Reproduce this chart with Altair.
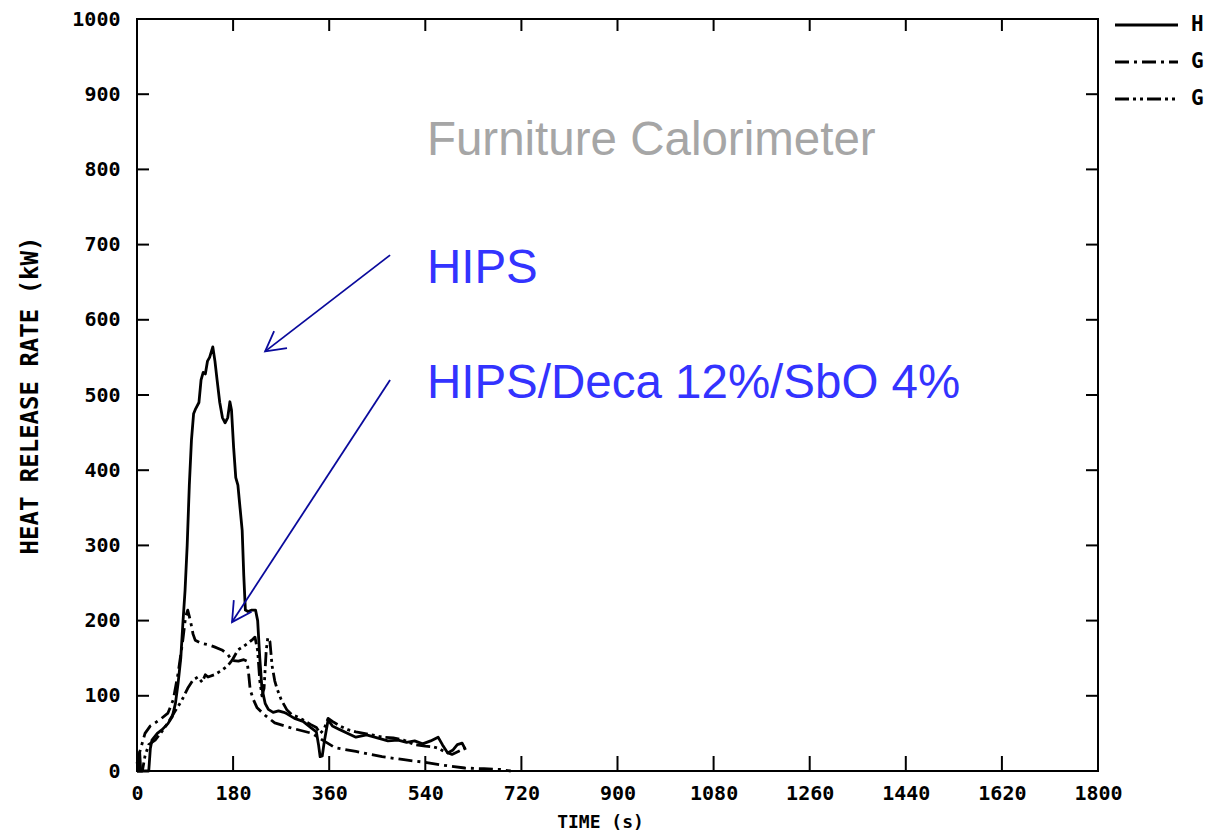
import altair as alt
import pandas as pd

# Axis ticks
TIME_TICKS = list(range(0, 1801, 180))
HRR_TICKS = list(range(0, 1001, 100))

# H : HIPS (solid)
hips_t = [0, 4, 5, 7, 22, 25, 28, 38, 47, 58, 66, 72, 77, 82, 86, 90, 94, 98, 102, 106,
          110, 116, 120, 124, 128, 132, 136, 142, 146, 150, 155, 160, 165, 170, 174, 177,
          181, 185, 189, 193, 197, 200, 203, 208, 215, 222, 226, 230, 234, 240, 246, 255,
          265, 275, 281, 295, 311, 325, 336, 340, 343, 347, 351, 358, 366, 380, 395, 410,
          430, 450, 470, 489, 505, 520, 535, 550, 564, 572, 582, 592, 600, 609, 614]
hips_q = [0, 0, 25, 0, 0, 30, 41, 50, 55, 63, 72, 90, 117, 150, 197, 240, 300, 380, 440, 475,
          482, 490, 520, 530, 528, 545, 550, 564, 545, 520, 490, 470, 463, 470, 491, 480,
          430, 390, 380, 350, 320, 260, 214, 212, 214, 214, 200, 150, 110, 90, 82, 78,
          80, 78, 76, 70, 66, 58, 52, 35, 19, 20, 40, 68, 60, 55, 50, 45,
          48, 44, 40, 41, 38, 40, 36, 40, 45, 35, 24, 28, 35, 37, 30]

# G : dash-dot
g1_t = [0, 5, 15, 25, 34, 46, 58, 68, 77, 86, 91, 95, 100, 105, 109, 120, 133, 145, 159,
        170, 178, 190, 200, 206, 209, 212, 218, 225, 240, 258, 290, 328, 350, 371, 410,
        459, 500, 534, 570, 614, 650, 680, 700]
g1_q = [10, 25, 50, 60, 64, 70, 77, 95, 130, 175, 205, 214, 200, 182, 174, 170, 168, 165, 161,
        155, 147, 146, 148, 146, 130, 108, 95, 84, 74, 64, 57, 50, 40, 31, 26,
        19, 15, 12, 8, 4, 3, 2, 0]

# G : dash-dot-dot
g2_t = [0, 10, 15, 22, 34, 46, 58, 70, 84, 95, 105, 114, 122, 128, 133, 145, 159, 170, 178,
        189, 200, 208, 215, 221, 226, 230, 234, 238, 242, 245, 249, 253, 258, 262, 270, 281,
        290, 300, 311, 325, 336, 343, 350, 358, 366, 380, 395, 410, 425, 440, 460, 480,
        500, 520, 540, 555, 565, 575, 590, 605, 618]
g2_q = [0, 0, 20, 35, 41, 52, 64, 78, 94, 110, 121, 125, 118, 128, 125, 128, 134, 140, 147,
        161, 166, 170, 174, 178, 160, 120, 100, 110, 160, 177, 172, 140, 120, 110, 95, 81,
        75, 72, 68, 62, 58, 50, 55, 70, 66, 60, 55, 52, 50, 48, 45, 44,
        41, 35, 33, 32, 30, 26, 22, 27, 31]

W, H = 961, 752
INK = "black"
FONT_MONO = "DejaVu Sans Mono"

x_scale = alt.Scale(domain=[0, 1800], nice=False, zero=False)
y_scale = alt.Scale(domain=[0, 1000], nice=False, zero=False)

X_AXIS = alt.Axis(values=TIME_TICKS, format="d", title="TIME (s)", ticks=False,
                  domain=False, grid=False, labelPadding=12, labelFlush=False,
                  labelOverlap=False, titleX=463, titleY=51,
                  titleBaseline="middle", titleFontSize=18)
Y_AXIS = alt.Axis(values=HRR_TICKS, format="d", title="HEAT RELEASE RATE (kW)",
                  ticks=False, domain=False, grid=False, labelPadding=17,
                  labelFlush=False, labelOverlap=False, titleX=-107,
                  titleBaseline="middle", titleFontSize=24)


def X(field):
    return alt.X(field, scale=x_scale, axis=X_AXIS)


def Y(field):
    return alt.Y(field, scale=y_scale, axis=Y_AXIS)


def series_layer(t, q, dash):
    df = pd.DataFrame({"t": t, "q": q})
    style = dict(color=INK, strokeWidth=2.8, strokeJoin="round")
    if dash:
        style["strokeDash"] = dash
    return alt.Chart(df).mark_line(**style).encode(x=X("t:Q"), y=Y("q:Q"))


DASH_DOT = [14, 5, 3, 5]
DASH_DOT_DOT = [14, 4, 3, 4, 3, 4]

hips = series_layer(hips_t, hips_q, None)
g1 = series_layer(g1_t, g1_q, DASH_DOT)
g2 = series_layer(g2_t, g2_q, DASH_DOT_DOT)

# Inward tick marks on all four sides of the frame
xt = pd.DataFrame({"t": TIME_TICKS})
yt = pd.DataFrame({"q": HRR_TICKS})
tick_style = dict(color=INK, strokeWidth=2)
ticks_bottom = alt.Chart(xt).mark_rule(**tick_style).encode(
    x=X("t:Q"), y=alt.value(H), y2=alt.value(H - 15))
ticks_top = alt.Chart(xt).mark_rule(**tick_style).encode(
    x=X("t:Q"), y=alt.value(0), y2=alt.value(12))
ticks_left = alt.Chart(yt).mark_rule(**tick_style).encode(
    y=Y("q:Q"), x=alt.value(0), x2=alt.value(12))
ticks_right = alt.Chart(yt).mark_rule(**tick_style).encode(
    y=Y("q:Q"), x=alt.value(W), x2=alt.value(W - 12))

# Key in the top right corner, outside the frame
key_names = ["H", "G", "G"]
key_dashes = [None, DASH_DOT, DASH_DOT_DOT]
key_rows = [6, 43, 80]
key_layers = []
for name, dash, ky in zip(key_names, key_dashes, key_rows):
    kw = dict(color=INK, strokeWidth=2.8)
    if dash:
        kw["strokeDash"] = dash
    key_layers.append(
        alt.Chart(pd.DataFrame({"n": [name]})).mark_rule(**kw).encode(
            x=alt.value(978), x2=alt.value(1041), y=alt.value(ky)))
    key_layers.append(
        alt.Chart(pd.DataFrame({"n": [name]})).mark_text(
            font=FONT_MONO, fontWeight="bold", fontSize=21, align="left",
            baseline="middle", color=INK).encode(
            x=alt.value(1054), y=alt.value(ky), text="n:N"))

# Annotations
notes = pd.DataFrame({
    "t": [543, 543, 543],
    "q": [819, 649, 496],
    "label": ["Furniture Calorimeter", "HIPS", "HIPS/Deca 12%/SbO 4%"],
    "color": ["#A6A6A6", "#3333FF", "#3333FF"],
})
note_text = alt.Chart(notes).mark_text(
    font="Liberation Sans", fontSize=47.5, align="left", baseline="alphabetic").encode(
    x=X("t:Q"), y=Y("q:Q"),
    text="label:N",
    color=alt.Color("color:N", scale=None),
)

arrow_start_t = [474, 474]
arrow_start_q = [686, 520]
arrow_end_t = [240, 178]
arrow_end_q = [558, 198]
arrow_angle = [142.8, 123.4]  # screen direction of each arrow, degrees
ARROW = "#0A0A9C"
arrows = pd.DataFrame({"t": arrow_start_t, "q": arrow_start_q,
                       "t2": arrow_end_t, "q2": arrow_end_q, "a": arrow_angle})
arrow_shafts = alt.Chart(arrows).mark_rule(color=ARROW, strokeWidth=1.8).encode(
    x=X("t:Q"), y=Y("q:Q"), x2="t2:Q", y2="q2:Q")
arrow_heads = alt.Chart(arrows).mark_point(
    shape="M -1 -0.55 L 0 0 L -1 0.55", filled=False, color=ARROW, strokeWidth=1.8,
    size=1500, opacity=1).encode(
    x=X("t2:Q"), y=Y("q2:Q"),
    angle=alt.Angle("a:Q", scale=None))

chart = alt.layer(
    hips, g1, g2, ticks_bottom, ticks_top, ticks_left, ticks_right,
    note_text, arrow_shafts, arrow_heads, *key_layers,
).properties(
    width=W, height=H,
    background="white",
    autosize=alt.AutoSizeParams(type="none"),
    padding={"left": 137, "top": 19, "right": 113, "bottom": 61},
).configure_view(
    stroke=INK, strokeWidth=2,
).configure_axis(
    labelFont=FONT_MONO, labelFontWeight="bold", labelFontSize=20, labelColor=INK,
    titleFont=FONT_MONO, titleFontWeight="bold", titleColor=INK,
)

chart.save("out.html", embed_options={"renderer": "svg", "actions": False})
